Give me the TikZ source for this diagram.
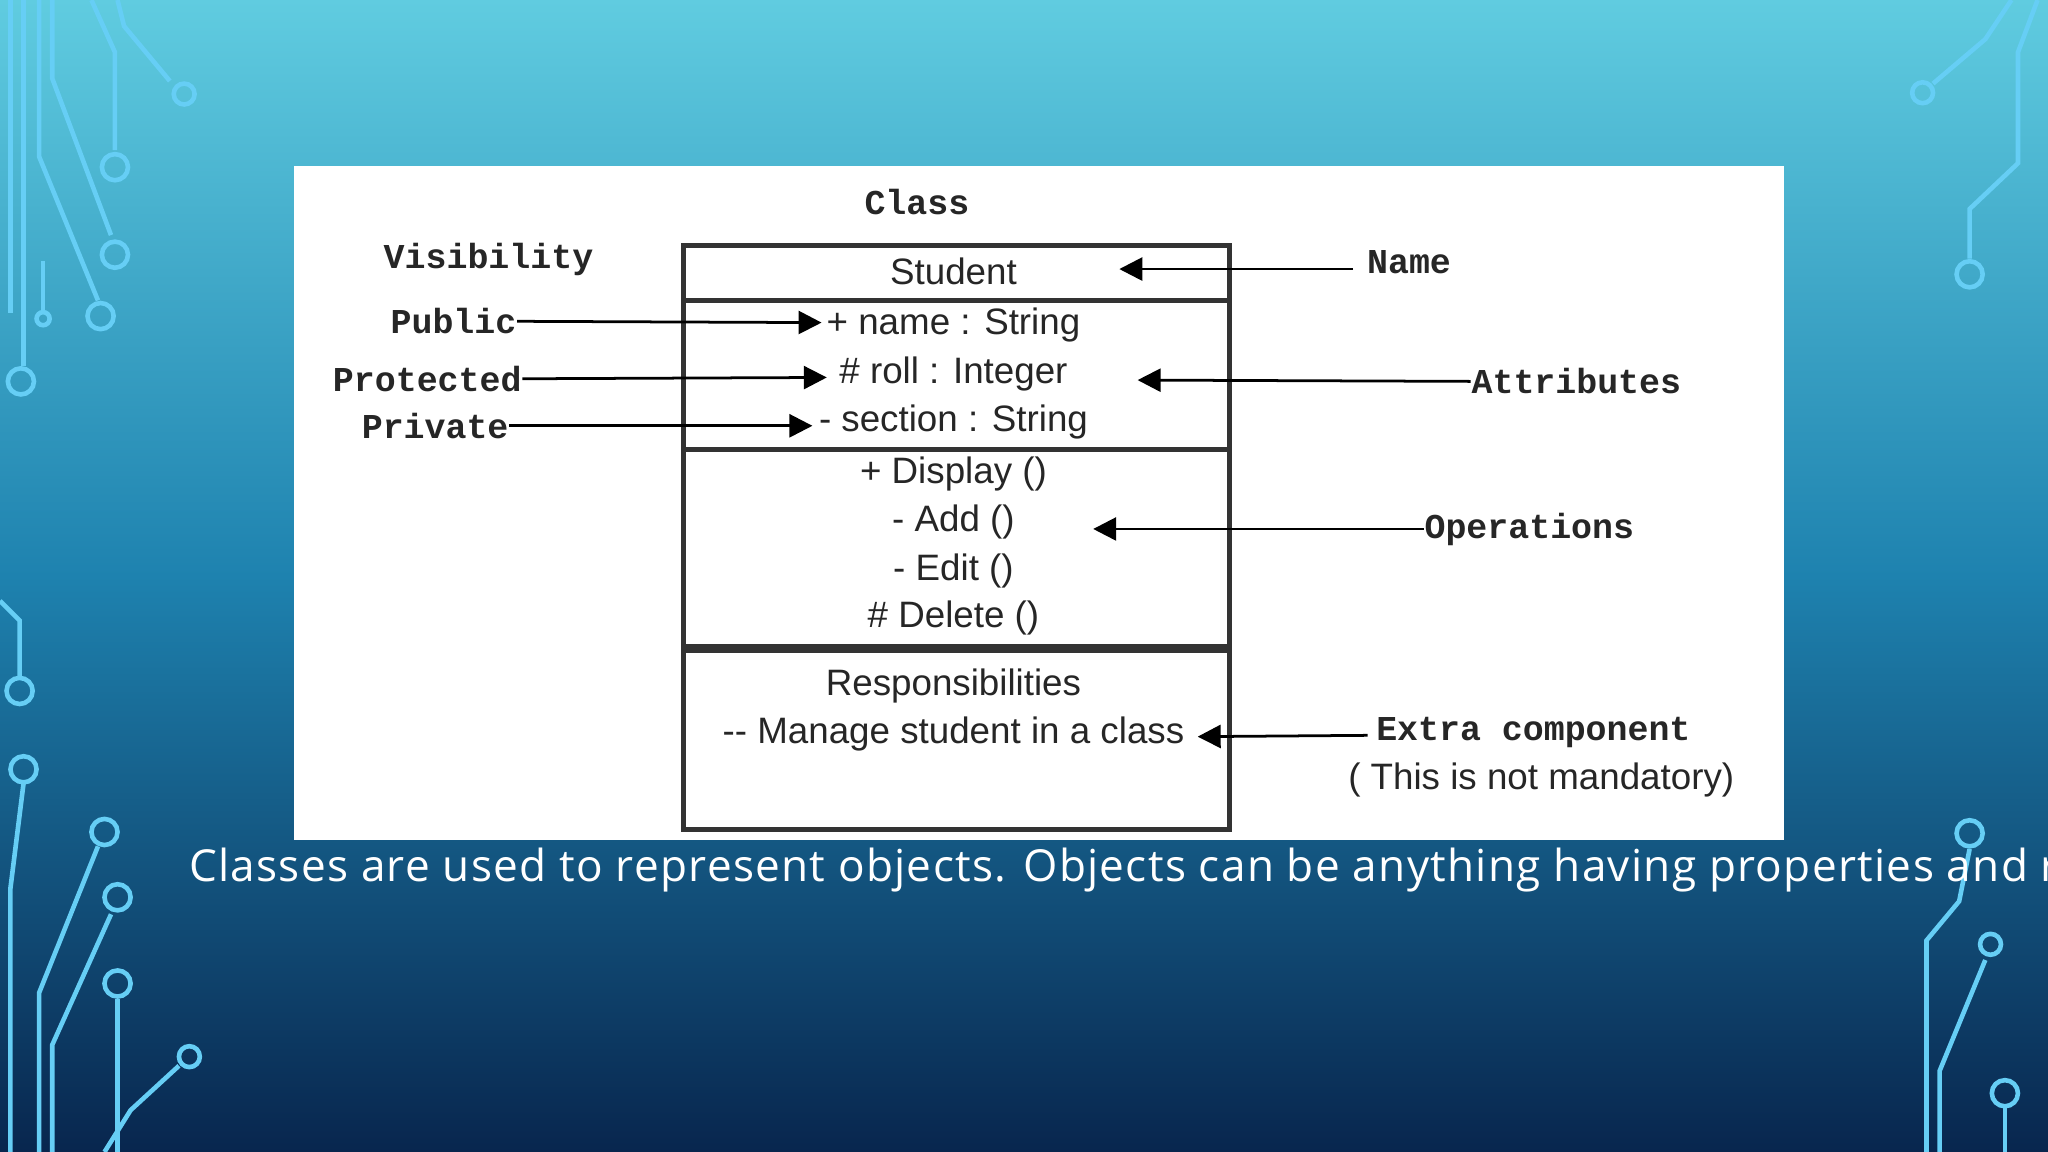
\documentclass[tikz,border=0pt]{standalone}
\usepackage{fontspec}
\setmainfont{Liberation Sans}
\newfontfamily\monob{Liberation Mono}
\newfontfamily\capf[LetterSpace=3]{Open Sans}
\usetikzlibrary{arrows.meta}
\begin{document}
\begin{tikzpicture}[x=0.01cm,y=-0.01cm,
  lbl/.style={font=\monob\bfseries\fontsize{7.6}{9}\selectfont,inner sep=0pt,text=black!85},
  itm/.style={font=\fontsize{8}{10}\selectfont,inner sep=0pt,text=black!85},
  arr/.style={-{Triangle[length=5pt,width=5pt]},line width=0.6pt},
  circ/.style={draw=cyan!60!white,line width=1pt},
]
\clip (0,0) rectangle (1568,882);
\shade[top color={rgb,255:red,96;green,204;blue,224},bottom color={rgb,255:red,8;green,38;blue,78},middle color={rgb,255:red,30;green,130;blue,175}] (0,0) rectangle (1568,882);
% circuit decorations
\begin{scope}[circ]
\draw (8,0)--(8,240); \draw (18,0)--(18,280); \draw (16,292) circle (10);
\draw (30,0)--(30,40)--(30,120)--(75,230); \draw (77,242) circle (10);
\draw (40,0)--(40,60)--(85,180); \draw (88,195) circle (10);
\draw (70,0)--(88,40)--(88,115); \draw (88,128) circle (10);
\draw (90,0)--(95,20)--(130,62); \draw (141,72) circle (8);
\draw (33,200)--(33,238); \draw (33,244) circle (5);
\draw (0,460)--(15,475)--(15,518); \draw (15,529) circle (10);
\draw (8,882)--(8,680)--(18,600); \draw (18,589) circle (10);
\draw (30,882)--(30,760)--(75,648); \draw (80,637) circle (10);
\draw (40,882)--(40,800)--(85,700); \draw (90,687) circle (10);
\draw (90,882)--(90,765); \draw (90,753) circle (10);
\draw (80,882)--(100,850)--(137,816); \draw (145,809) circle (8);
\draw (1540,0)--(1520,30)--(1480,64); \draw (1472,71) circle (8);
\draw (1560,0)--(1545,40)--(1545,125)--(1508,160)--(1508,198); \draw (1508,210) circle (10);
\draw (1475,882)--(1475,720)--(1500,690)--(1508,650); \draw (1508,638) circle (10);
\draw (1485,882)--(1485,820)--(1520,735); \draw (1524,723) circle (8);
\draw (1535,882)--(1535,848); \draw (1535,837) circle (10);
\end{scope}
% panel
\fill[white] (225,127) rectangle (1366,643);
% class boxes
\draw[line width=1.1pt,black!80] (523,188) rectangle (941,495);
\draw[line width=1.1pt,black!80] (523,230)--(941,230);
\draw[line width=1.1pt,black!80] (523,344)--(941,344);
\draw[line width=1.1pt,black!80] (523,498) rectangle (941,635);
\node[lbl] (class) at (702,155) {Class};
\node[lbl] (vis) at (374,199) {Visibility};
\node[itm] (stu) at (730,208) {Student};
\node[itm] (nm) at (730,249) {+ name : String};
\node[itm] (rl) at (730,286) {\# roll : Integer};
\node[itm] (sec) at (730,323) {- section : String};
\node[itm] (d) at (730,363) {+ Display ()};
\node[itm] (ad) at (730,400) {- Add ()};
\node[itm] (ed) at (730,437) {- Edit ()};
\node[itm] (de) at (730,473) {\# Delete ()};
\node[itm] (rs) at (730,525) {Responsibilities};
\node[itm] (mg) at (730,562) {-{}- Manage student in a class};
\node[lbl,anchor=east] (pub) at (396,246) {Public};
\node[lbl,anchor=east] (pro) at (400,290) {Protected};
\node[lbl,anchor=east] (pri) at (390,326) {Private};
\node[lbl,anchor=west] (name) at (1046,201) {Name};
\node[lbl,anchor=west] (att) at (1126,292) {Attributes};
\node[lbl,anchor=west] (ops) at (1090,405) {Operations};
\node[lbl,anchor=west] (ext) at (1053,561) {Extra component};
\node[itm] (nm2) at (1180,597) {( This is not mandatory)};
\coordinate (a1) at (629,247); \coordinate (a2) at (633,289); \coordinate (a3) at (622,326);
\coordinate (b1) at (857,206); \coordinate (b2) at (871,291); \coordinate (b3) at (837,405); \coordinate (b4) at (917,564);
\draw[arr] (pub.east)--(a1);
\draw[arr] (pro.east)--(a2);
\draw[arr] (pri.east)--(a3);
\draw[arr] (name.west)++(-10,5)--(b1);
\draw[arr] (att.west)--(b2);
\draw[arr] (ops.west)--(b3);
\draw[arr] (ext.west)++(-6,2)--(b4);
\node[anchor=west,text=white,font=\capf\fontsize{9.6}{12}\selectfont,inner sep=0pt] (cap) at (144,666) {Classes are used to represent objects. Objects can be anything having properties and responsibilities.};
\end{tikzpicture}
\end{document}
